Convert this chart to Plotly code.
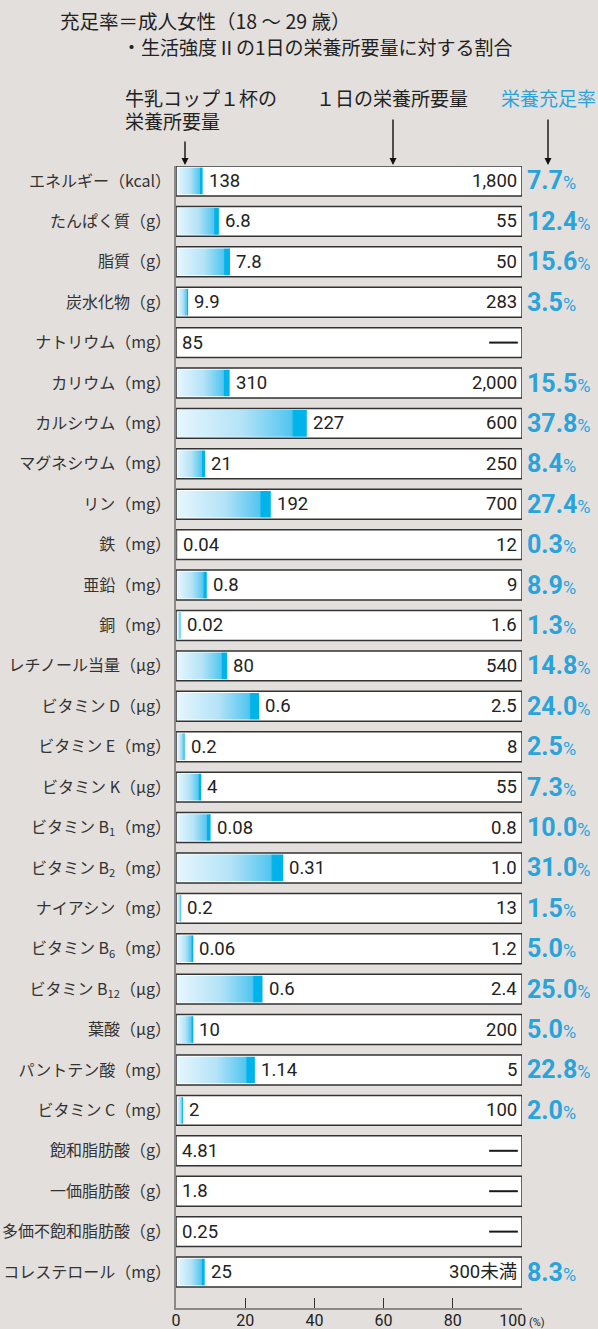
import plotly.graph_objects as go

# 項目名
labels = ['エネルギー（kcal）', 'たんぱく質（g）', '脂質（g）', '炭水化物（g）',
          'ナトリウム（mg）', 'カリウム（mg）', 'カルシウム（mg）', 'マグネシウム（mg）',
          'リン（mg）', '鉄（mg）', '亜鉛（mg）', '銅（mg）', 'レチノール当量（μg）',
          'ビタミン D（μg）', 'ビタミン E（mg）', 'ビタミン K（μg）',
          'ビタミン B<sub>1</sub>（mg）', 'ビタミン B<sub>2</sub>（mg）', 'ナイアシン（mg）',
          'ビタミン B<sub>6</sub>（mg）', 'ビタミン B<sub>12</sub>（μg）', '葉酸（μg）',
          'パントテン酸（mg）', 'ビタミン C（mg）', '飽和脂肪酸（g）', '一価脂肪酸（g）',
          '多価不飽和脂肪酸（g）', 'コレステロール（mg）']
# 牛乳コップ1杯の栄養量
milk = ['138', '6.8', '7.8', '9.9', '85', '310', '227', '21', '192', '0.04', '0.8',
        '0.02', '80', '0.6', '0.2', '4', '0.08', '0.31', '0.2', '0.06', '0.6', '10',
        '1.14', '2', '4.81', '1.8', '0.25', '25']
# 1日の栄養所要量 (None = ―)
daily = ['1,800', '55', '50', '283', None, '2,000', '600', '250', '700', '12', '9',
         '1.6', '540', '2.5', '8', '55', '0.8', '1.0', '13', '1.2', '2.4', '200', '5',
         '100', None, None, None, '300未満']
# 栄養充足率 (%)
rate = [7.7, 12.4, 15.6, 3.5, None, 15.5, 37.8, 8.4, 27.4, 0.3, 8.9, 1.3, 14.8,
        24.0, 2.5, 7.3, 10.0, 31.0, 1.5, 5.0, 25.0, 5.0, 22.8, 2.0, None, None, None, 8.3]
x_ticks = [0, 20, 40, 60, 80, 100]
x_ticktext = ['0', '20', '40', '60', '80', '100<span style="font-size:11px"> (%)</span>']

BG = '#e3dfdc'
BLUE = '#29a3dc'
TXT = '#222222'
FONT = 'Roboto, Noto Sans CJK JP, sans-serif'
JP = 'Noto Sans CJK JP, sans-serif'

W, H = 598, 1329
L, R, T, B = 176, 76, 166, 21
n = len(labels)
rows = list(range(n))
bh = 0.37  # half bar height


def paper(px, py):
    return (px - L) / (W - L - R), (H - B - py) / (H - T - B)


fig = go.Figure()

# white boxes = 100% of daily need
fig.add_trace(go.Bar(
    y=rows, x=[100] * n, base=0, orientation='h', width=bh * 2,
    marker=dict(color='white', line=dict(color='#333333', width=1.5)),
    cliponaxis=False, hoverinfo='skip', showlegend=False))

# gradient fills
inset = 0.04
for i, r in enumerate(rate):
    if not r:
        continue
    fig.add_trace(go.Scatter(
        x=[0.4, r, r, 0.4, 0.4],
        y=[i - bh + inset, i - bh + inset, i + bh - inset, i + bh - inset, i - bh + inset],
        mode='lines', line=dict(width=0), fill='toself',
        fillgradient=dict(type='horizontal',
                          colorscale=[[0, '#e6f6fd'], [0.5, '#b4e3f7'], [0.88, '#52c6f0'],
                                      [0.9, '#00b3ea'], [1, '#00b3ea']]),
        hoverinfo='skip', showlegend=False))

ann = []
for i in rows:
    # milk value, right after the fill
    ann.append(dict(x=rate[i] or 0, y=i, xref='x', yref='y', text=milk[i],
                    xanchor='left', yanchor='middle', xshift=4, showarrow=False,
                    font=dict(size=18.5, color=TXT, family=FONT)))
    if daily[i] is not None:
        ann.append(dict(x=100, y=i, xref='x', yref='y', text=daily[i],
                        xanchor='right', yanchor='middle', xshift=-3, showarrow=False,
                        font=dict(size=18.5, color=TXT, family=FONT)))
    if rate[i] is not None:
        ann.append(dict(x=100, y=i, xref='x', yref='y',
                        text='<b>%.1f</b><span style="font-size:18px">%%</span>' % rate[i],
                        xanchor='left', yanchor='middle', xshift=3, showarrow=False,
                        font=dict(size=25, color=BLUE, family=FONT)))

shapes = []
for i in rows:
    if daily[i] is None:
        shapes.append(dict(type='line', xref='x', yref='y', x0=90.5, x1=98.8, y0=i, y1=i,
                           line=dict(color='#1a1a1a', width=2)))
    if rate[i] is None:
        shapes.append(dict(type='line', xref='x', yref='y', x0=102.0, x1=115.5, y0=i, y1=i,
                           line=dict(color=BLUE, width=2.5)))


# header texts
def head(px, py, text, size=19, color=TXT, anchor='left'):
    x, y = paper(px, py)
    ann.append(dict(x=x, y=y, xref='paper', yref='paper', text=text, showarrow=False,
                    xanchor=anchor, yanchor='middle', align='left',
                    font=dict(size=size, color=color, family=JP)))


head(58, 21, '充足率＝成人女性（18 ～ 29 歳）', size=19.5)
head(120, 47, '・生活強度Ⅱの1日の栄養所要量に対する割合')
head(123, 97, '牛乳コップ１杯の')
head(123, 121, '栄養所要量')
head(314, 97, '１日の栄養所要量')
head(499, 97, '栄養充足率', color=BLUE)

for ax_px, top_px in [(185, 140), (393, 118), (548, 118)]:
    x, y = paper(ax_px, 165)
    ann.append(dict(x=x, y=y, xref='paper', yref='paper', ax=0, ay=top_px - 165, text='',
                    showarrow=True, arrowhead=2, arrowsize=1, arrowwidth=1.4,
                    arrowcolor='#111'))

fig.update_layout(
    width=W, height=H, margin=dict(l=L, r=R, t=T, b=B, autoexpand=False),
    paper_bgcolor=BG, plot_bgcolor=BG, showlegend=False,
    annotations=ann, shapes=shapes, barmode='overlay',
    font=dict(family=FONT, color=TXT))

fig.update_xaxes(range=[0, 100], tickvals=x_ticks, ticktext=x_ticktext,
                 ticks='inside', ticklen=10, ticklabelstandoff=-3,
                 tickcolor='#333', tickwidth=1.2, showgrid=False, zeroline=False,
                 showline=True, linecolor='#8a8a8a', linewidth=1.5, automargin=False,
                 tickfont=dict(size=16, color=TXT, family=FONT))
fig.update_yaxes(range=[n - 1 + 0.89, -0.37], tickvals=rows, ticktext=labels,
                 ticks='', showgrid=False, zeroline=False, showline=True, automargin=False,
                 linecolor='#8a8a8a', linewidth=1.5, ticklabelstandoff=0,
                 tickfont=dict(size=16, color='#333', family=JP))

# drop the page's default body margin so the 598x1329 figure fills the window
fig.write_html('out.html', config={'displayModeBar': False},
               post_script="document.body.style.margin='0';document.body.style.overflow='hidden';")
